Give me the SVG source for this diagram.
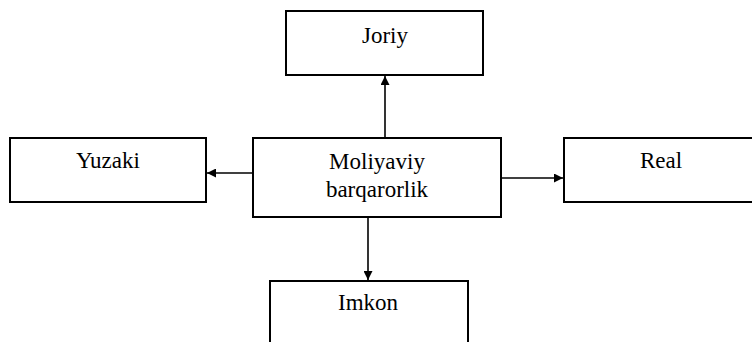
<svg xmlns="http://www.w3.org/2000/svg" width="752" height="342" viewBox="0 0 752 342">
<style>
.box{fill:#fff;stroke:#000;stroke-width:2}
.t{font-family:"Liberation Serif",serif;font-size:23px;fill:#000;text-anchor:middle}
.c{stroke:#000;stroke-width:1.6;fill:none}
</style>
<defs>
<marker id="ah" viewBox="0 0 10 10" refX="10" refY="5" markerWidth="10" markerHeight="9" markerUnits="userSpaceOnUse" orient="auto">
<path d="M0,0 L10,5 L0,10 Z" fill="#000"/>
</marker>
</defs>
<rect width="752" height="342" fill="#fff"/>
<g id="connectors">
<line class="c" x1="385" y1="138" x2="385" y2="76" marker-end="url(#ah)"/>
<line class="c" x1="253" y1="173" x2="207" y2="173" marker-end="url(#ah)"/>
<line class="c" x1="501" y1="178" x2="563" y2="178" marker-end="url(#ah)"/>
<line class="c" x1="368" y1="217" x2="368" y2="280" marker-end="url(#ah)"/>
</g>
<g id="joriy">
<rect class="box" x="286" y="11" width="197" height="64"/>
<text class="t" x="385" y="43">Joriy</text>
</g>
<g id="center">
<rect class="box" x="253" y="138" width="248" height="79"/>
<text class="t" x="377" y="169">Moliyaviy</text>
<text class="t" x="377" y="197">barqarorlik</text>
</g>
<g id="yuzaki">
<rect class="box" x="10" y="138" width="196" height="64"/>
<text class="t" x="108" y="168">Yuzaki</text>
</g>
<g id="real">
<rect class="box" x="564" y="138" width="196" height="64"/>
<text class="t" x="661" y="168">Real</text>
</g>
<g id="imkon">
<rect class="box" x="270" y="281" width="198" height="80"/>
<text class="t" x="368" y="310">Imkon</text>
</g>
</svg>
